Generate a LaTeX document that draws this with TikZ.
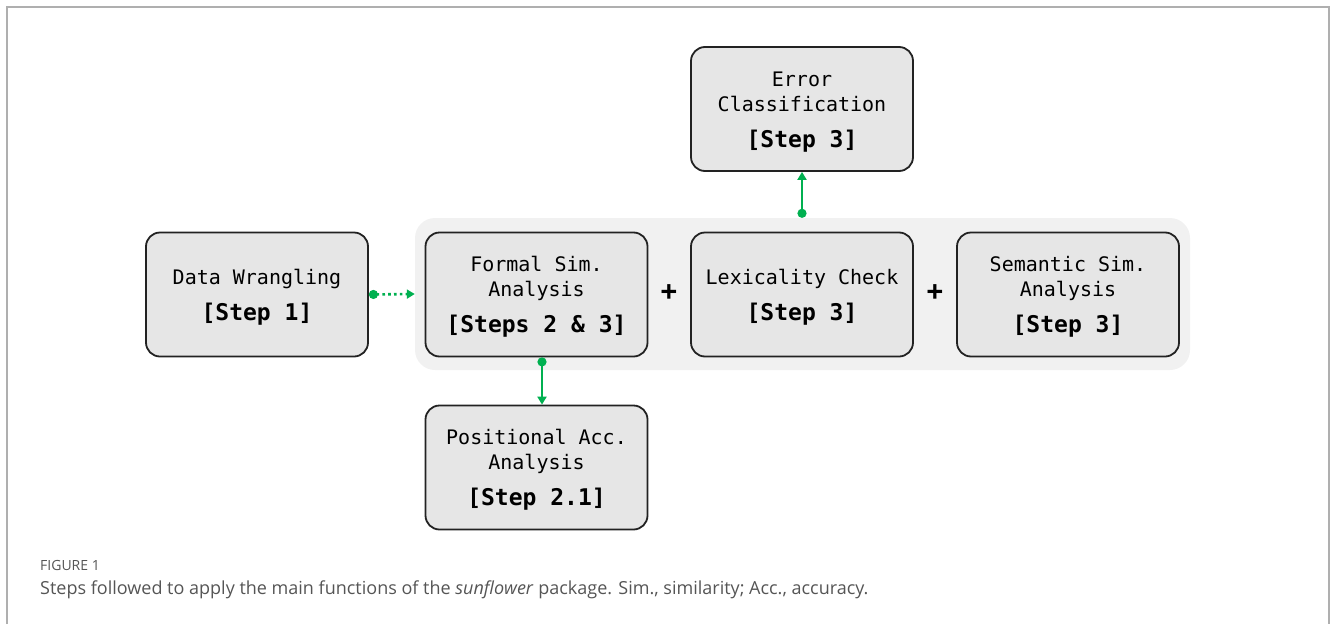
\documentclass[tikz,border=0pt]{standalone}
\usepackage{fontspec}
\setmainfont{Open Sans}
\setmonofont{DejaVu Sans Mono}
\usetikzlibrary{arrows.meta}
\definecolor{grn}{RGB}{0,176,80}
\definecolor{boxfill}{RGB}{230,230,230}
\definecolor{bgfill}{RGB}{241,241,241}
\definecolor{edge}{RGB}{34,34,34}
\definecolor{frame}{RGB}{175,175,175}
\definecolor{captxt}{RGB}{85,85,85}
\newcommand{\stp}[1]{{\fontsize{23}{26}\selectfont\bfseries #1}}
\newcommand{\tp}{\rule{0pt}{20pt}}
\begin{document}
\begin{tikzpicture}[x=1pt,y=-1pt,
  stepbox/.style={draw=edge,line width=1.8pt,fill=boxfill,rounded corners=14pt,
    minimum width=222pt,minimum height=124pt,align=center,inner sep=0pt,
    font=\ttfamily\fontsize{20}{25}\selectfont},
  conn/.style={draw=grn,line width=2.6pt,{Circle[length=9pt]}-{Triangle[length=8pt,width=9pt]}},
  plus/.style={font=\fontsize{30}{30}\selectfont\bfseries,inner sep=0pt}]
\useasboundingbox (0,0) rectangle (1330,624);
\draw[frame,line width=1.5pt] (7,624) -- (7,7) -- (1329,7) -- (1329,624);
\node[fill=bgfill,rounded corners=20pt,minimum width=775pt,minimum height=152pt,inner sep=0pt] (bg) at (802.5,294) {};
\node[stepbox] (dw) at (257,294.5) {\tp Data Wrangling\\[11pt]\stp{[Step 1]}};
\node[stepbox] (fs) at (536.5,294.5) {\tp Formal Sim.\\Analysis\\[11pt]\stp{[Steps 2 \& 3]}};
\node[stepbox] (lc) at (802,294.5) {\tp Lexicality Check\\[11pt]\stp{[Step 3]}};
\node[stepbox] (ss) at (1068,294.5) {\tp Semantic Sim.\\Analysis\\[11pt]\stp{[Step 3]}};
\node[stepbox] (ec) at (802,109) {\tp Error\\Classification\\[11pt]\stp{[Step 3]}};
\node[stepbox] (pa) at (536.5,467.5) {\tp Positional Acc.\\Analysis\\[11pt]\stp{[Step 2.1]}};
\node[plus] (p1) at (669,294) {+};
\node[plus] (p2) at (935,294) {+};
\draw[conn,dash pattern=on 2.6pt off 3.2pt] (dw.east) -- (bg.west);
\draw[conn] ([xshift=5.5pt]fs.south) -- ([xshift=5.5pt]pa.north);
\draw[conn] (bg.north -| lc.north) -- (ec.south);
\node[anchor=base west,inner sep=0pt,text=captxt,font=\fontsize{14}{14}\selectfont] (fig) at (40,570) {FIGURE 1};
\node[anchor=base west,inner sep=0pt,text=captxt,font=\fontsize{18}{20}\selectfont] (cap) at (40,594) {Steps followed to apply the main functions of the \textit{sunflower} package. Sim., similarity; Acc., accuracy.};
\end{tikzpicture}
\end{document}
